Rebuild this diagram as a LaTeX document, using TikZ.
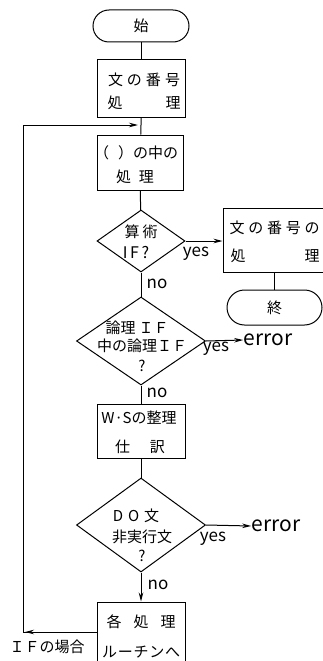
\documentclass[tikz,border=0pt]{standalone}
\usepackage{fontspec}
\setmainfont{Noto Sans CJK JP}
\usetikzlibrary{shapes.geometric,arrows.meta}
\begin{document}
\begin{tikzpicture}[x=1pt,y=-1pt,
  line width=1pt,
  box/.style={draw, rectangle, inner sep=0pt},
  term/.style={draw, rectangle, inner sep=0pt},
  dia/.style={draw, diamond, inner sep=0pt},
  txt/.style={font=\fontsize{15}{18}\selectfont, inner sep=0pt},
  lat/.style={font=\fontsize{17}{20}\selectfont, inner sep=0pt},
  errl/.style={font=\fontsize{21}{24}\selectfont, inner sep=0pt},
  arr/.style={-{Stealth[length=9pt,width=4.5pt]}}]
\useasboundingbox (0,0) rectangle (323,661);
\clip (0,0) rectangle (323,661);

% nodes
\node[term, minimum width=96pt, minimum height=32pt, rounded corners=16pt] (start) at (141,26) {};
\node[txt] (tstart) at (start) {始};

\node[box, minimum width=88pt, minimum height=57pt] (b1) at (141,88.5) {};
\node[txt] (t1a) at (144,80) {\makebox[72pt]{文\hfill の\hfill 番\hfill 号}};
\node[txt] (t1b) at (115,103) {処};
\node[txt] (t1c) at (173,103) {理};

\coordinate (j) at (141,125);

\node[box, minimum width=86pt, minimum height=55pt] (b2) at (140,162.5) {};
\node[txt] (t2a) at (136,153) {（\hspace{9pt}）の中の};
\node[txt] (t2b) at (135,177) {処\hspace{8pt}理};

\node[dia, minimum width=88pt, minimum height=62pt] (d1) at (141,241) {};
\node[txt] (td1a) at (141,232) {算\hspace{3pt}術};
\node[txt, font=\fontsize{16}{18}\selectfont] (td1b) at (136,253) {I\,F\,?};

\node[box, minimum width=122pt, minimum height=64pt] (rb) at (284,240) {};
\node[txt, anchor=west] (trba) at (229,228) {\makebox[90pt]{文\hfill の\hfill 番\hfill 号\hfill の}};
\node[txt] (trbb) at (238,256) {処};
\node[txt] (trbc) at (312,256) {理};

\node[term, minimum width=95pt, minimum height=35pt, rounded corners=17.5pt] (end) at (274.5,307.5) {};
\node[txt] (tend) at (end) {終};

\node[dia, minimum width=129pt, minimum height=88pt] (d2) at (141,341) {};
\node[txt] (td2a) at (137,328) {論理\hspace{3pt}ＩＦ};
\node[txt] (td2b) at (142,346) {中の論理ＩＦ};
\node[txt] (td2c) at (142,366) {?};

\node[box, minimum width=88pt, minimum height=54pt] (b3) at (141,431) {};
\node[txt] (t3a) at (139,418) {W·Sの整理};
\node[txt] (t3b) at (140,447) {仕\hspace{20pt}訳};

\node[dia, minimum width=129pt, minimum height=94pt] (d3) at (141,525) {};
\node[txt] (td3a) at (136,516) {D\hspace{5pt}O\hspace{5pt}文};
\node[txt] (td3b) at (142,537) {非実行文};
\node[txt] (td3c) at (142,556) {?};

\node[box, minimum width=88pt, minimum height=60pt] (b4) at (141,632) {};
\node[txt] (t4a) at (141,622) {各\hspace{12pt}処\hspace{12pt}理};
\node[txt] (t4b) at (141,652) {\makebox[78pt]{ル\hfill ー\hfill チ\hfill ン\hfill へ}};

% labels
\node[lat] (y1) at (196,254) {yes};
\node[lat] (n1) at (157,284) {no};
\node[lat] (y2) at (216,349) {yes};
\node[errl] (e1) at (268,340) {error};
\node[lat] (n2) at (157,393) {no};
\node[lat] (y3) at (213,539) {yes};
\node[errl] (e2) at (276,526) {error};
\node[lat] (n3) at (158,585) {no};
\node[txt] (lif) at (47,647) {ＩＦの場合};

\coordinate (lc) at (23,632);
\coordinate (tc) at (23,125);

% connectors
\draw (start) -- (b1);
\draw (b1) -- (j) -- (b2);
\draw (b2) -- (d1);
\draw[arr] (d1.east) -- (d1.east -| rb.west);
\draw (end.north |- rb.south) -- (end.north);
\draw (d1) -- (d2);
\draw[arr] (d2.east) -- (e1.west);
\draw (d2) -- (b3);
\draw (b3) -- (d3);
\draw[arr] (d3.east) -- (e2.west);
\draw[arr] (d3) -- (b4);
\draw (b4.west) -- (lc) -- (tc);
\draw[arr, shorten >=3pt] (tc) -- (j);
\draw[arr, shorten >=2pt] (b4.west) -- (lc);
\end{tikzpicture}
\end{document}
